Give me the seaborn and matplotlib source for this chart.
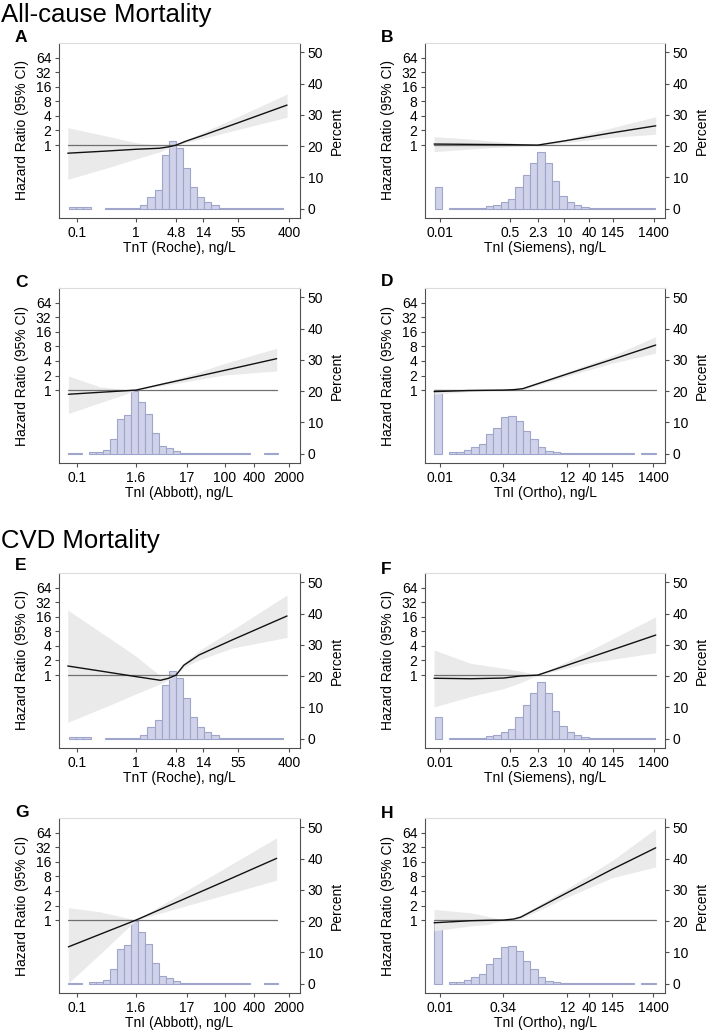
import numpy as np
import matplotlib
matplotlib.use("Agg")
import matplotlib.pyplot as plt
from matplotlib.ticker import NullLocator, FixedLocator, FixedFormatter
import seaborn as sns

sns.set_style("ticks")
plt.rcParams['font.family'] = ['Liberation Sans', 'DejaVu Sans']
plt.rcParams['text.color'] = 'black'
plt.rcParams['axes.labelcolor'] = 'black'

# ---------------- x-axis ticks per assay ----------------
roche_ticks = [0.1, 1, 4.8, 14, 55, 400]
roche_labels = ["0.1", "1", "4.8", "14", "55", "400"]
siemens_ticks = [0.01, 0.5, 2.3, 10, 40, 145, 1400]
siemens_labels = ["0.01", "0.5", "2.3", "10", "40", "145", "1400"]
abbott_ticks = [0.1, 1.6, 17, 100, 400, 2000]
abbott_labels = ["0.1", "1.6", "17", "100", "400", "2000"]
ortho_ticks = [0.01, 0.34, 12, 40, 145, 1400]
ortho_labels = ["0.01", "0.34", "12", "40", "145", "1400"]

# ---------------- histograms: percent per log10 bin ----------------
roche_log_edge0, roche_log_binw = -1.137, 0.121
roche_pct = [0.4, 0.4, 0.4, 0, 0, 0.2, 0.2, 0.2, 0.2, 0.2,
             1.2, 3.7, 6.1, 17.3, 21.6, 19.4, 13.0, 6.8, 3.7, 2.1, 1.1, 0.3,
             0.2, 0.2, 0.2, 0.2, 0.2, 0.2, 0.2, 0.2]
siemens_log_edge0, siemens_log_binw = -2.1175, 0.1765
siemens_pct = [7.0, 0, 0.2, 0.2, 0.2, 0.2, 0.2,
               0.7, 1.1, 2.1, 3.2, 6.8, 10.8, 14.7, 18.2, 14.5, 8.7, 4.1, 2.0, 1.2, 0.5,
               0.2, 0.2, 0.2, 0.2, 0.2, 0.2, 0.2, 0.2, 0.2]
abbott_log_edge0, abbott_log_binw = -1.169, 0.142
abbott_pct = [0.3, 0.3, 0, 0.4, 0.4,
              1.1, 4.7, 11.0, 12.4, 19.9, 16.5, 12.6, 6.5, 2.6, 1.7, 0.75, 0.3,
              0.2, 0.2, 0.2, 0.2, 0.2, 0.2, 0.2, 0.2, 0.2, 0, 0, 0.3, 0.3]
ortho_log_edge0, ortho_log_binw = -2.1402, 0.1786
ortho_pct = [20.0, 0,
             0.4, 0.6, 1.3, 2.2, 3.1, 6.2, 8.1, 11.6, 12.1, 10.5, 7.1, 4.7, 2.1, 0.9, 0.45, 0.2,
             0.2, 0.2, 0.2, 0.2, 0.2, 0.2, 0.2, 0.2, 0.2, 0, 0.3, 0.3]

# ---------------- hazard ratio curves (HR, lower, upper) ----------------
A_x = [0.069, 0.3, 1.0, 2.5, 3.8, 4.8, 7, 14, 55, 370]
A_hr = [0.68, 0.75, 0.82, 0.86, 0.93, 1.0, 1.2, 1.6, 2.9, 6.7]
A_lo = [0.196, 0.33, 0.52, 0.72, 0.89, 1.0, 1.12, 1.38, 2.1, 3.75]
A_hi = [2.29, 1.56, 1.12, 0.98, 0.97, 1.0, 1.25, 1.85, 3.9, 11.3]

B_x = [0.0074, 0.03, 0.1, 0.5, 2.3, 10, 145, 1574]
B_hr = [1.05, 1.04, 1.03, 1.02, 1.0, 1.22, 1.8, 2.5]
B_lo = [0.73, 0.8, 0.86, 0.93, 1.0, 1.12, 1.45, 1.67]
B_hi = [1.49, 1.38, 1.27, 1.12, 1.0, 1.3, 2.3, 3.86]

C_x = [0.068, 0.3, 1.0, 1.6, 5, 17, 100, 1143]
C_hr = [0.82, 0.90, 0.97, 1.0, 1.30, 1.71, 2.55, 4.45]
C_lo = [0.33, 0.55, 0.83, 1.0, 1.22, 1.5, 2.05, 2.48]
C_hi = [1.96, 1.16, 1.03, 1.0, 1.38, 1.95, 3.55, 7.3]

D_x = [0.0072, 0.05, 0.34, 0.6, 1.0, 3, 12, 145, 1620]
D_hr = [0.93, 0.98, 1.0, 1.02, 1.07, 1.46, 2.16, 4.3, 8.5]
D_lo = [0.83, 0.93, 1.0, 0.99, 1.02, 1.36, 1.95, 3.6, 5.8]
D_hi = [1.06, 1.03, 1.0, 1.05, 1.12, 1.57, 2.4, 5.1, 12.7]

E_x = [0.069, 0.3, 1.0, 2.6, 3.6, 4.8, 6.5, 11.8, 43, 370]
E_hr = [1.54, 1.17, 0.93, 0.78, 0.86, 1.0, 1.6, 2.6, 5.3, 16.6]
E_lo = [0.106, 0.22, 0.41, 0.66, 0.80, 1.0, 1.45, 2.05, 3.6, 6.0]
E_hi = [22, 6.6, 2.45, 0.96, 0.92, 1.0, 1.78, 3.2, 8.5, 45]

F_x = [0.0074, 0.056, 0.355, 0.9, 2.3, 35, 1574]
F_hr = [0.86, 0.84, 0.87, 0.96, 1.0, 2.2, 6.7]
F_lo = [0.22, 0.36, 0.53, 0.70, 1.0, 1.76, 2.9]
F_hi = [3.3, 1.75, 1.38, 1.2, 1.0, 3.0, 16]

G_x = [0.068, 0.3, 1.6, 17, 100, 1143]
G_hr = [0.28, 0.51, 1.0, 2.87, 6.3, 18.8]
G_lo = [0.05, 0.2, 1.0, 1.98, 3.3, 6.7]
G_hi = [1.8, 1.48, 1.0, 4.1, 11.7, 50]

H_x = [0.0072, 0.055, 0.139, 0.34, 0.6, 0.89, 2.5, 12, 145, 1620]
H_hr = [0.88, 0.97, 0.99, 1.0, 1.05, 1.15, 1.83, 3.7, 11.2, 31]
H_lo = [0.6, 0.76, 0.81, 1.0, 1.0, 1.08, 1.6, 3.0, 7.5, 12.5]
H_hi = [1.66, 1.41, 1.2, 1.0, 1.1, 1.25, 2.1, 4.5, 17, 77]

hr_ticks = [1, 2, 4, 8, 16, 32, 64]
pct_ticks = [0, 10, 20, 30, 40, 50]

W, H = 708, 1032
fig = plt.figure(figsize=(W / 100, H / 100), dpi=100)

DARK = '#505050'
BAR_FILL = '#cfd2e8'
BAR_EDGE = '#a0a5cc'


def draw_panel(left_px, top_px, width_px, letter, letter_xy,
               edge0, binw, pct, cx, chr_, clo, chi,
               ticks, ticklabels, xlabel, xlim):
    rect = [left_px / W, 1 - (top_px + 175) / H, width_px / W, 175 / H]
    ax = fig.add_axes(rect)
    ax2 = ax.twinx()

    # histogram (percent) on the right axis
    edges = edge0 + binw * np.arange(len(pct) + 1)
    centers = 10 ** ((edges[:-1] + edges[1:]) / 2)
    sns.histplot(x=centers, weights=pct, bins=[float(e) for e in edges],
                 log_scale=True, ax=ax2, stat='count', color=BAR_FILL,
                 edgecolor=BAR_EDGE, linewidth=0.8, alpha=1)
    for p in list(ax2.patches):
        if p.get_height() <= 0:
            p.remove()
    ax2.set_ylim(-3, 53)
    ax2.yaxis.set_major_locator(FixedLocator(pct_ticks))
    ax2.set_ylabel("Percent", fontsize=10, labelpad=4.5)

    # HR curve on the left axis
    ax.set_yscale('log', base=2)
    ax.fill_between(cx, clo, chi, color='#eaeaea', lw=0, zorder=1)
    sns.lineplot(x=[cx[0], cx[-1]], y=[1, 1], ax=ax, color='#707070', lw=0.9,
                 errorbar=None, zorder=2)
    sns.lineplot(x=cx, y=chr_, ax=ax, color='#111111', lw=1.0,
                 errorbar=None, zorder=3)
    ax.set_ylim(2 ** -5, 2 ** 7)
    ax.yaxis.set_major_locator(FixedLocator(hr_ticks))
    ax.yaxis.set_major_formatter(FixedFormatter([str(t) for t in hr_ticks]))
    ax.yaxis.set_minor_locator(NullLocator())
    ax.set_ylabel("Hazard Ratio (95% CI)", fontsize=10, labelpad=5)

    ax.set_xlim(*xlim)
    ax.xaxis.set_major_locator(FixedLocator(ticks))
    ax.xaxis.set_major_formatter(FixedFormatter(ticklabels))
    ax.xaxis.set_minor_locator(NullLocator())
    ax.set_xlabel(xlabel, fontsize=10, labelpad=1)

    ax.set_zorder(ax2.get_zorder() + 1)
    ax.patch.set_visible(False)

    for s in ['left', 'bottom']:
        ax.spines[s].set_color(DARK)
        ax.spines[s].set_linewidth(0.8)
    ax.spines['top'].set_color('#dcdcdc')
    ax.spines['top'].set_linewidth(0.8)
    ax.spines['right'].set_visible(False)
    for s in ['left', 'bottom', 'top']:
        ax2.spines[s].set_visible(False)
    ax2.spines['right'].set_color(DARK)
    ax2.spines['right'].set_linewidth(0.8)

    ax.tick_params(axis='both', which='major', length=3, width=0.8,
                   color=DARK, labelsize=10, pad=2.5, labelcolor='black')
    ax2.tick_params(axis='y', which='major', length=3, width=0.8,
                    color=DARK, labelsize=10, pad=2.5, labelcolor='black')

    fig.text(letter_xy[0] / W, 1 - letter_xy[1] / H, letter, fontsize=12.5,
             fontweight='bold', va='baseline', ha='left')


LX, RX = 59, 425
LW, RW = 241, 240

draw_panel(LX, 43, LW, "A", (15, 41.7), roche_log_edge0, roche_log_binw, roche_pct,
           A_x, A_hr, A_lo, A_hi, roche_ticks, roche_labels, "TnT (Roche), ng/L", (0.049, 615))
draw_panel(RX, 43, RW, "B", (381, 41.7), siemens_log_edge0, siemens_log_binw, siemens_pct,
           B_x, B_hr, B_lo, B_hi, siemens_ticks, siemens_labels, "TnI (Siemens), ng/L", (0.00448, 2630))
draw_panel(LX, 288, LW, "C", (15, 286.7), abbott_log_edge0, abbott_log_binw, abbott_pct,
           C_x, C_hr, C_lo, C_hi, abbott_ticks, abbott_labels, "TnI (Abbott), ng/L", (0.0439, 3400))
draw_panel(RX, 288, RW, "D", (381, 286.5), ortho_log_edge0, ortho_log_binw, ortho_pct,
           D_x, D_hr, D_lo, D_hi, ortho_ticks, ortho_labels, "TnI (Ortho), ng/L", (0.00434, 2720))
draw_panel(LX, 573, LW, "E", (15, 570.5), roche_log_edge0, roche_log_binw, roche_pct,
           E_x, E_hr, E_lo, E_hi, roche_ticks, roche_labels, "TnT (Roche), ng/L", (0.049, 615))
draw_panel(RX, 573, RW, "F", (381, 573.5), siemens_log_edge0, siemens_log_binw, siemens_pct,
           F_x, F_hr, F_lo, F_hi, siemens_ticks, siemens_labels, "TnI (Siemens), ng/L", (0.00448, 2630))
draw_panel(LX, 818, LW, "G", (15, 816.7), abbott_log_edge0, abbott_log_binw, abbott_pct,
           G_x, G_hr, G_lo, G_hi, abbott_ticks, abbott_labels, "TnI (Abbott), ng/L", (0.0439, 3400))
draw_panel(RX, 818, RW, "H", (381, 818), ortho_log_edge0, ortho_log_binw, ortho_pct,
           H_x, H_hr, H_lo, H_hi, ortho_ticks, ortho_labels, "TnI (Ortho), ng/L", (0.00434, 2720))

fig.text(1 / W, 1 - 21.7 / H, "All-cause Mortality", fontsize=18.5, va='baseline', ha='left')
fig.text(1 / W, 1 - 548.3 / H, "CVD Mortality", fontsize=18.5, va='baseline', ha='left')

fig.savefig("out.png", dpi=100, facecolor='white')
